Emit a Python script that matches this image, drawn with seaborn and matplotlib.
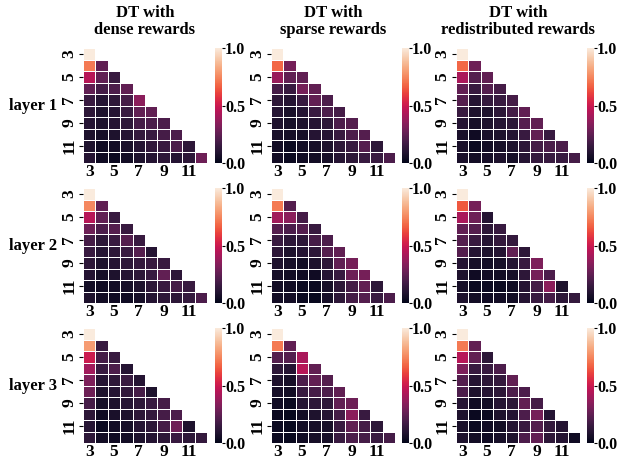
import numpy as np
import matplotlib
matplotlib.use("Agg")
import matplotlib.pyplot as plt
import seaborn as sns

plt.rcParams['font.family'] = ['Liberation Serif', 'DejaVu Serif']
plt.rcParams['font.weight'] = 'bold'

tick_labels = [str(i) for i in range(3, 13)]
col_titles = ["DT with\ndense rewards", "DT with\nsparse rewards", "DT with\nredistributed rewards"]
row_titles = ["layer 1", "layer 2", "layer 3"]

dense_l1 = [
    [1.0],
    [0.72, 0.25],
    [0.45, 0.25, 0.15],
    [0.25, 0.18, 0.20, 0.25],
    [0.15, 0.10, 0.12, 0.18, 0.35],
    [0.12, 0.08, 0.10, 0.15, 0.25, 0.25],
    [0.10, 0.08, 0.10, 0.12, 0.18, 0.20, 0.20],
    [0.08, 0.06, 0.08, 0.10, 0.14, 0.15, 0.18, 0.20],
    [0.08, 0.04, 0.05, 0.07, 0.10, 0.13, 0.15, 0.20, 0.12],
    [0.10, 0.04, 0.03, 0.05, 0.08, 0.10, 0.12, 0.10, 0.12, 0.28],
]
sparse_l1 = [
    [1.0],
    [0.68, 0.30],
    [0.38, 0.25, 0.25],
    [0.18, 0.15, 0.30, 0.25],
    [0.12, 0.10, 0.15, 0.25, 0.20],
    [0.10, 0.07, 0.10, 0.15, 0.20, 0.18],
    [0.08, 0.06, 0.08, 0.10, 0.12, 0.20, 0.22],
    [0.07, 0.06, 0.06, 0.10, 0.10, 0.15, 0.20, 0.22],
    [0.05, 0.03, 0.05, 0.06, 0.08, 0.12, 0.15, 0.22, 0.12],
    [0.05, 0.03, 0.04, 0.05, 0.06, 0.10, 0.12, 0.15, 0.15, 0.20],
]
redis_l1 = [
    [1.0],
    [0.68, 0.28],
    [0.42, 0.22, 0.25],
    [0.25, 0.15, 0.22, 0.18],
    [0.22, 0.10, 0.14, 0.15, 0.18],
    [0.15, 0.08, 0.08, 0.12, 0.18, 0.25],
    [0.10, 0.06, 0.08, 0.10, 0.12, 0.22, 0.25],
    [0.07, 0.04, 0.07, 0.08, 0.10, 0.15, 0.25, 0.15],
    [0.07, 0.03, 0.05, 0.06, 0.08, 0.12, 0.18, 0.20, 0.20],
    [0.07, 0.05, 0.06, 0.08, 0.06, 0.10, 0.14, 0.15, 0.15, 0.18],
]
dense_l2 = [
    [1.0],
    [0.75, 0.25],
    [0.45, 0.25, 0.15],
    [0.28, 0.20, 0.22, 0.15],
    [0.18, 0.12, 0.15, 0.22, 0.15],
    [0.15, 0.10, 0.12, 0.15, 0.22, 0.10],
    [0.12, 0.08, 0.10, 0.12, 0.14, 0.15, 0.15],
    [0.10, 0.06, 0.08, 0.10, 0.12, 0.15, 0.25, 0.12],
    [0.05, 0.04, 0.05, 0.06, 0.08, 0.12, 0.15, 0.18, 0.15],
    [0.08, 0.05, 0.04, 0.04, 0.06, 0.10, 0.12, 0.12, 0.14, 0.20],
]
sparse_l2 = [
    [1.0],
    [0.72, 0.22],
    [0.40, 0.35, 0.18],
    [0.22, 0.20, 0.22, 0.15],
    [0.15, 0.12, 0.12, 0.18, 0.20],
    [0.12, 0.08, 0.10, 0.12, 0.22, 0.25],
    [0.08, 0.06, 0.05, 0.08, 0.12, 0.25, 0.30],
    [0.06, 0.05, 0.04, 0.04, 0.10, 0.15, 0.28, 0.30],
    [0.05, 0.04, 0.03, 0.03, 0.06, 0.12, 0.18, 0.25, 0.12],
    [0.05, 0.05, 0.03, 0.02, 0.06, 0.12, 0.18, 0.22, 0.15, 0.20],
]
redis_l2 = [
    [1.0],
    [0.65, 0.30],
    [0.42, 0.28, 0.10],
    [0.25, 0.22, 0.12, 0.15],
    [0.22, 0.15, 0.10, 0.14, 0.14],
    [0.22, 0.10, 0.08, 0.10, 0.25, 0.12],
    [0.10, 0.06, 0.05, 0.06, 0.10, 0.15, 0.32],
    [0.08, 0.04, 0.05, 0.05, 0.06, 0.12, 0.30, 0.20],
    [0.06, 0.03, 0.03, 0.03, 0.04, 0.10, 0.18, 0.35, 0.08],
    [0.08, 0.05, 0.04, 0.05, 0.05, 0.10, 0.15, 0.18, 0.12, 0.14],
]
dense_l3 = [
    [1.0],
    [0.80, 0.15],
    [0.50, 0.18, 0.15],
    [0.40, 0.15, 0.20, 0.10],
    [0.32, 0.10, 0.12, 0.15, 0.10],
    [0.28, 0.08, 0.10, 0.13, 0.18, 0.08],
    [0.18, 0.06, 0.08, 0.10, 0.12, 0.15, 0.18],
    [0.12, 0.04, 0.07, 0.08, 0.12, 0.14, 0.18, 0.20],
    [0.10, 0.03, 0.05, 0.06, 0.10, 0.12, 0.18, 0.28, 0.08],
    [0.12, 0.05, 0.04, 0.05, 0.08, 0.10, 0.12, 0.15, 0.12, 0.14],
]
sparse_l3 = [
    [1.0],
    [0.72, 0.25],
    [0.22, 0.22, 0.42],
    [0.12, 0.10, 0.45, 0.25],
    [0.08, 0.06, 0.20, 0.25, 0.22],
    [0.06, 0.05, 0.15, 0.18, 0.20, 0.25],
    [0.04, 0.03, 0.10, 0.12, 0.12, 0.25, 0.28],
    [0.03, 0.02, 0.05, 0.08, 0.10, 0.18, 0.35, 0.15],
    [0.03, 0.02, 0.05, 0.06, 0.06, 0.15, 0.25, 0.18, 0.12],
    [0.03, 0.02, 0.04, 0.06, 0.06, 0.15, 0.20, 0.18, 0.15, 0.18],
]
redis_l3 = [
    [1.0],
    [0.72, 0.25],
    [0.45, 0.25, 0.12],
    [0.32, 0.15, 0.15, 0.20],
    [0.22, 0.10, 0.12, 0.14, 0.25],
    [0.20, 0.08, 0.10, 0.12, 0.20, 0.20],
    [0.10, 0.04, 0.05, 0.10, 0.12, 0.25, 0.18],
    [0.08, 0.03, 0.03, 0.08, 0.10, 0.20, 0.30, 0.10],
    [0.07, 0.03, 0.04, 0.05, 0.10, 0.15, 0.22, 0.14, 0.10],
    [0.08, 0.05, 0.04, 0.06, 0.08, 0.20, 0.25, 0.12, 0.10, 0.04],
]

grid = [[dense_l1, sparse_l1, redis_l1],
        [dense_l2, sparse_l2, redis_l2],
        [dense_l3, sparse_l3, redis_l3]]


def to_matrix(rows):
    n = len(rows)
    m = np.full((n, n), np.nan)
    for i, r in enumerate(rows):
        m[i, :len(r)] = r
    return m


W, H = 618, 462
fig = plt.figure(figsize=(W / 100, H / 100), dpi=100)

col_left = [83, 271, 456]
cb_left = [215, 402, 587]
row_top = [48, 188, 328]
hm_w, hm_h = 124, 115
cb_w = 7
TICK_FS = 12.5
CB_FS = 11.5


def frac(x, top, w, h):
    return [x / W, 1 - (top + h) / H, w / W, h / H]


for r in range(3):
    for c in range(3):
        data = to_matrix(grid[r][c])
        mask = np.triu(np.ones_like(data, dtype=bool), k=1)
        ax = fig.add_axes(frac(col_left[c], row_top[r], hm_w, hm_h))
        cax = fig.add_axes(frac(cb_left[c], row_top[r], cb_w, hm_h))
        sns.heatmap(data, mask=mask, cmap="rocket", vmin=0, vmax=1,
                    linewidths=0.6, linecolor="white", ax=ax, cbar_ax=cax,
                    xticklabels=tick_labels, yticklabels=tick_labels,
                    cbar_kws={"ticks": [0.0, 0.5, 1.0]})
        ax.set_xticks(np.arange(0, 10, 2) + 0.5)
        ax.set_xticklabels(tick_labels[::2], rotation=0, fontsize=TICK_FS, fontweight='bold')
        ax.set_yticks(np.arange(0, 10, 2) + 0.5)
        ax.set_yticklabels(tick_labels[::2], rotation=90, va='center', fontsize=TICK_FS, fontweight='bold')
        ax.tick_params(axis='y', length=3, pad=1)
        ax.tick_params(axis='x', length=0, pad=1)
        cax.set_yticklabels(["0.0", "0.5", "1.0"], fontsize=CB_FS, fontweight='bold')
        cax.tick_params(length=2, pad=0.2)

for c in range(3):
    cx = (col_left[c] + hm_w / 2) / W
    fig.text(cx, 1 - 38 / H, col_titles[c], ha='center', va='bottom',
             fontsize=12, fontweight='bold', linespacing=1.05)

for r in range(3):
    cy = 1 - (row_top[r] + hm_h / 2) / H
    fig.text(33 / W, cy, row_titles[r], ha='center', va='center',
             fontsize=12, fontweight='bold')

fig.savefig("out.png", dpi=100)
